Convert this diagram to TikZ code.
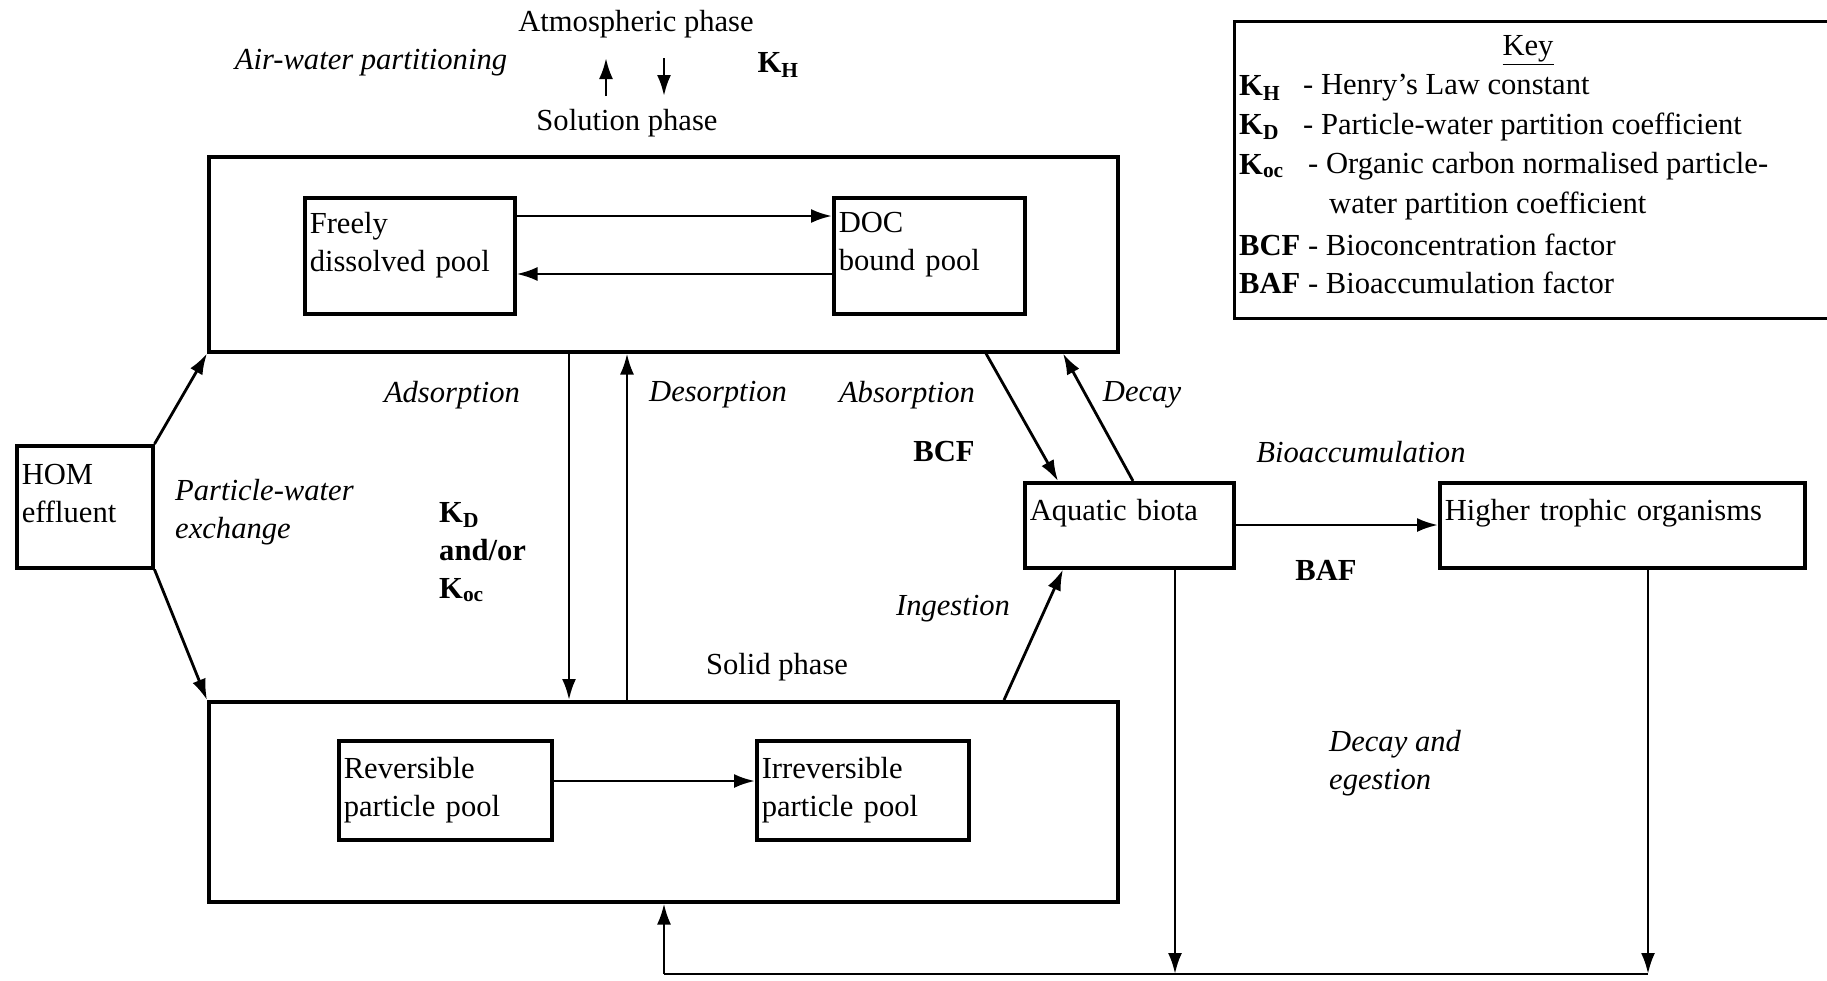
\documentclass[tikz,border=0pt]{standalone}
\usepackage{fontspec}
\setmainfont{Liberation Serif}
\usetikzlibrary{arrows.meta,positioning,calc}

\begin{document}
\begin{tikzpicture}[x=1pt,y=-1pt,inner sep=0pt,
  font=\fontsize{30.6}{38}\selectfont,
  box/.style={draw,line width=3.5pt,anchor=north west},
  pool/.style={draw,line width=3.5pt,align=left,anchor=north west,inner sep=5pt},
  hipool/.style={pool,text depth=#1},
  arr/.style={line width=2.8pt,-{Latex[length=21pt,width=14pt]}},
  it/.style={font=\fontsize{30.6}{38}\selectfont\itshape},
  bf/.style={font=\fontsize{30.6}{38}\selectfont\bfseries}]
  \useasboundingbox (0,0) rectangle (1827,980);
  \node[box,minimum width=909pt,minimum height=195pt] (sol) at (207,155) {};
  \node[box,minimum width=909pt,minimum height=200pt] (solid) at (207,700) {};
  \node[hipool=66pt,text width=200pt,minimum height=116pt] (free) at (303,196) {Freely\\dissolved pool};
  \node[hipool=66pt,text width=181pt,minimum height=116pt] (doc) at (832,196) {DOC\\bound pool};
  \node[pool,text width=203pt,minimum height=99pt] (rev) at (337,739) {Reversible\\particle pool};
  \node[pool,text width=202pt,minimum height=99pt] (irr) at (755,739) {Irreversible\\particle pool};
  \node[hipool=64pt,text width=126pt,minimum height=122pt] (hom) at (15,444) {HOM\\effluent};
  \node[hipool=30pt,text width=199pt,minimum height=85pt] (biota) at (1023,481) {Aquatic biota};
  \node[hipool=30pt,text width=355pt,minimum height=85pt] (higher) at (1438,481) {Higher trophic organisms};

  \node[box,line width=2.5pt,minimum width=597pt,minimum height=297pt] (key) at (1233,20) {};
  \node (keyt) at (1528,50) {\underline{Key}};
  \node[bf,anchor=west] (kh) at (1239,88) {K\textsubscript{H}};
  \node[anchor=west] (khd) at (1303,88) {- Henry's Law constant};
  \node[bf,anchor=west] (kdk) at (1239,127) {K\textsubscript{D}};
  \node[anchor=west] (kdd) at (1303,127) {- Particle-water partition coefficient};
  \node[bf,anchor=west] (koc) at (1239,166) {K\textsubscript{oc}};
  \node[anchor=west] (kocd) at (1308,166) {- Organic carbon normalised particle-};
  \node[anchor=west] (kocd2) at (1329,206) {water partition coefficient};
  \node[anchor=west] (bcfk) at (1239,245) {\textbf{BCF} - Bioconcentration factor};
  \node[anchor=west] (bafk) at (1239,283) {\textbf{BAF} - Bioaccumulation factor};

  \node (atm) at (636,24) {Atmospheric phase};
  \node[it] (aw) at (371,63) {Air-water partitioning};
  \node[bf] (khl) at (778,65) {K\textsubscript{H}};
  \node (solph) at (627,123) {Solution phase};
  \node[it] (ads) at (452,395) {Adsorption};
  \node[it] (des) at (718,395) {Desorption};
  \node[it] (abs) at (907,395) {Absorption};
  \node[it] (dec) at (1142,395) {Decay};
  \node[bf] (bcf) at (944,452) {BCF};
  \node[it] (bioacc) at (1361,452) {Bioaccumulation};
  \node[it,align=left,anchor=west] (pwx) at (175,512) {Particle-water\\exchange};
  \node[bf,align=left,anchor=west] (kd) at (439,552) {K\textsubscript{D}\\and/or\\K\textsubscript{oc}};
  \node[it] (ing) at (953,609) {Ingestion};
  \node[bf] (baf) at (1326,570) {BAF};
  \node (solidph) at (777,667) {Solid phase};
  \node[it,align=left,anchor=west] (decg) at (1329,763) {Decay and\\egestion};

  \coordinate (u0) at (606,96); \coordinate (u1) at (606,58);
  \coordinate (d0) at (664,58); \coordinate (d1) at (664,96);
  \draw[arr] (u0) -- (u1);
  \draw[arr] (d0) -- (d1);

  \draw[arr] (hom.north east) -- (sol.south west);
  \draw[arr] (hom.south east) -- (solid.north west);
  \draw[arr] (free.east |- 0,216) -- (doc.west |- 0,216);
  \draw[arr] (doc.west |- 0,274) -- (free.east |- 0,274);
  \draw[arr] (sol.south -| 569,0) -- (solid.north -| 569,0);
  \draw[arr] (solid.north -| 627,0) -- (sol.south -| 627,0);
  \draw[arr] (sol.south -| 986,0) -- (biota.north -| 1058,0);
  \draw[arr] (biota.north -| 1133,0) -- (sol.south -| 1063,0);
  \draw[arr] (solid.north -| 1004,0) -- (biota.south -| 1063,0);
  \draw[arr] (biota.east |- 0,525) -- (higher.west |- 0,525);
  \draw[arr] (rev.east |- 0,781) -- (irr.west |- 0,781);

  \coordinate (b0) at (664,974); \coordinate (b1) at (1175,974); \coordinate (b2) at (1648,974);
  \draw[arr] (biota.south -| b1) -- (b1);
  \draw[arr] (higher.south -| b2) -- (b2);
  \draw[line width=2.8pt] (b2) -- (b0);
  \draw[arr] (b0) -- (solid.south -| b0);
\end{tikzpicture}
\end{document}
